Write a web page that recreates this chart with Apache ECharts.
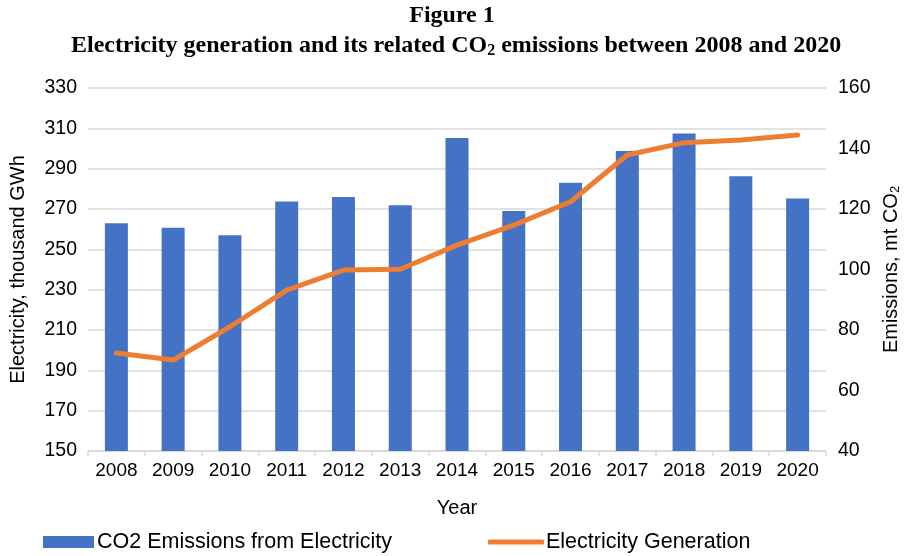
<!DOCTYPE html>
<html>
<head>
<meta charset="utf-8">
<script src="https://cdn.jsdelivr.net/npm/echarts@6/dist/echarts.min.js"></script>
<style>html,body{margin:0;padding:0;background:#fff;}#c{width:904px;height:556px;}</style>
</head>
<body>
<div id="c"></div>
<script>
var years = ['2008','2009','2010','2011','2012','2013','2014','2015','2016','2017','2018','2019','2020'];
var co2Emissions = [115.3, 113.8, 111.3, 122.5, 124.0, 121.2, 143.5, 119.3, 128.7, 139.2, 145.0, 130.8, 123.5];
var electricityGeneration = [198.6, 195.1, 211.6, 229.8, 239.7, 240.1, 252.1, 262.0, 273.6, 296.8, 302.9, 304.2, 306.7];
var leftTicks = [150, 330, 20];
var rightTicks = [40, 160, 20];

var FONT = 'Liberation Sans, Arial, sans-serif';
var chart = echarts.init(document.getElementById('c'));
chart.setOption({
  backgroundColor: '#fff',
  animation: false,
  title: [
    { text: 'Figure 1', left: 'center', top: 4, padding: 0,
      textStyle: { fontFamily: 'Liberation Serif', fontWeight: 'bold', fontSize: 24, color: '#000' } },
    { text: '{b|Electricity generation and its related CO}{s|2}{b| emissions between 2008 and 2020}', left: 71, top: 33, padding: 0,
      textStyle: { rich: {
        b: { fontFamily: 'Liberation Serif', fontWeight: 'bold', fontSize: 24, color: '#000' },
        s: { fontFamily: 'Liberation Serif', fontWeight: 'bold', fontSize: 16, color: '#000', verticalAlign: 'bottom', padding: [10,0,0,0] }
      } } }
  ],
  grid: { left: 88, right: 78, top: 88, bottom: 105, containLabel: false, outerBoundsMode: 'none' },
  legend: [
    { left: 43, top: 531, padding: 0, itemGap: 0, itemWidth: 51, itemHeight: 12, data: [{ name: 'CO2 Emissions from Electricity', icon: 'rect' }],
      textStyle: { fontFamily: FONT, fontSize: 21.5, color: '#000', padding: [0,0,0,-2] } },
    { left: 488, top: 531, padding: 0, itemGap: 0, itemWidth: 56, itemHeight: 5, data: [{ name: 'Electricity Generation', icon: 'roundRect' }],
      itemStyle: { color: '#ED7D31' },
      textStyle: { fontFamily: FONT, fontSize: 21.5, color: '#000', padding: [0,0,0,-3] } }
  ],
  xAxis: {
    type: 'category', data: years, boundaryGap: true,
    name: 'Year', nameLocation: 'middle', nameGap: 47,
    nameTextStyle: { fontFamily: FONT, fontSize: 20, color: '#000' },
    axisLine: { lineStyle: { color: '#d9d9d9', width: 1.5 } },
    axisTick: { show: true, length: 5, interval: 0, lineStyle: { color: '#d9d9d9', width: 1.5 } },
    axisLabel: { fontFamily: FONT, fontSize: 19, color: '#000', margin: 10, interval: 0 }
  },
  yAxis: [
    { type: 'value', min: leftTicks[0], max: leftTicks[1], interval: leftTicks[2], position: 'left',
      name: 'Electricity, thousand GWh', nameLocation: 'middle', nameGap: 60, nameRotate: 90,
      nameTextStyle: { fontFamily: FONT, fontSize: 20, color: '#000' },
      axisLine: { show: false }, axisTick: { show: false },
      axisLabel: { fontFamily: FONT, fontSize: 19.5, color: '#000', margin: 11 },
      splitLine: { lineStyle: { color: '#d9d9d9', width: 1.5 } } },
    { type: 'value', min: rightTicks[0], max: rightTicks[1], interval: rightTicks[2], position: 'right',
      name: '{n|Emissions, mt CO}{s|2}', nameLocation: 'middle', nameGap: 55, nameRotate: 90,
      nameTextStyle: { rich: {
        n: { fontFamily: FONT, fontSize: 20, color: '#000' },
        s: { fontFamily: FONT, fontSize: 13, color: '#000', verticalAlign: 'bottom', padding: [8,0,0,0] }
      } },
      axisLine: { show: false }, axisTick: { show: false },
      axisLabel: { fontFamily: FONT, fontSize: 19.5, color: '#000', margin: 12 },
      splitLine: { show: false } }
  ],
  series: [
    { name: 'CO2 Emissions from Electricity', type: 'bar', yAxisIndex: 1, data: co2Emissions,
      barWidth: 23, itemStyle: { color: '#4472C4' } },
    { name: 'Electricity Generation', type: 'line', yAxisIndex: 0, data: electricityGeneration,
      symbol: 'none', lineStyle: { color: '#ED7D31', width: 5, cap: 'round', join: 'round' },
      itemStyle: { color: '#ED7D31' } }
  ]
});
</script>
</body>
</html>
